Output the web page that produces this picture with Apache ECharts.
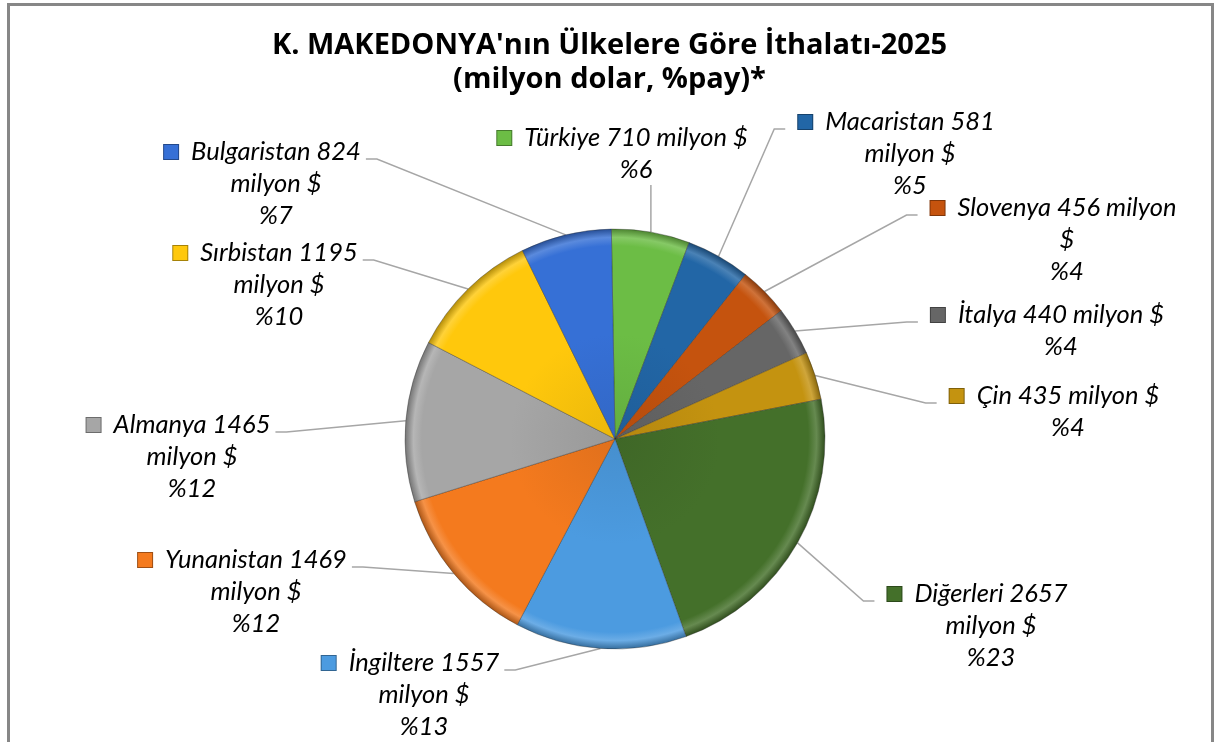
<!DOCTYPE html>
<html>
<head>
<meta charset="utf-8">
<script src="https://cdn.jsdelivr.net/npm/echarts@6/dist/echarts.min.js"></script>
<style>
  html, body { margin: 0; padding: 0; background: #fff; }
  #myChart { width: 1219px; height: 742px; }
</style>
</head>
<body>
<div id="myChart"></div>
<script>
// veriler (saat yönünde, tepeden başlayarak)
var countries = ['Türkiye', 'Macaristan', 'Slovenya', 'İtalya', 'Çin', 'Diğerleri',
  'İngiltere', 'Yunanistan', 'Almanya', 'Sırbistan', 'Bulgaristan']
var imports = [710, 581, 456, 440, 435, 2657, 1557, 1469, 1465, 1195, 824]
var shares = [6, 5, 4, 4, 4, 23, 13, 12, 12, 10, 7]
var colors = ['#6cbd45', '#2266a6', '#c5530e', '#666666', '#c49310', '#44702a',
  '#4c9be0', '#f47a1e', '#a6a6a6', '#ffc80c', '#3670d6']

var PIE_CX = 615
var PIE_CY = 439
var PIE_R = 210
var LABEL_FONT = 25.5
var LINE_H = 32
var SQ = 14
var GAP = 13

// etiket yerleri: metin ortası x, ilk satır ortası y, satır kırma tipi, çizginin bağlandığı taraf
var labelSpots = [
  [636, 138, 'B', 'bottom'], [910, 122, 'A', 'left'], [1067, 208, 'C', 'left'],
  [1061, 315, 'B', 'left'], [1068, 396, 'B', 'left'], [991, 594, 'A', 'left'],
  [424, 663, 'A', 'right'], [256, 560, 'A', 'right'], [192, 425, 'A', 'right'],
  [279, 253, 'A', 'right'], [276, 152, 'A', 'right']
]

function mix(c, target, t) {
  var a = echarts.color.parse(c)
  var b = echarts.color.parse(target)
  var r = []
  for (var i = 0; i < 3; i++) r.push(Math.round(a[i] + (b[i] - a[i]) * t))
  return 'rgb(' + r.join(',') + ')'
}

function sliceFill(c) {
  return {
    type: 'radial', x: PIE_CX, y: PIE_CY, r: PIE_R, global: true,
    colorStops: [
      { offset: 0, color: mix(c, '#000', 0.08) },
      { offset: 0.5, color: c },
      { offset: 0.92, color: c },
      { offset: 0.96, color: mix(c, '#fff', 0.18) },
      { offset: 1, color: mix(c, '#000', 0.3) }
    ]
  }
}

function firstLine(i) {
  var name = countries[i] + ' ' + imports[i]
  var mode = labelSpots[i][2]
  if (mode === 'B') return name + ' milyon $'
  if (mode === 'C') return name + ' milyon'
  return name
}

function labelText(i) {
  var pct = '%' + shares[i]
  var mode = labelSpots[i][2]
  var head = '{sq|}{gap|}' + firstLine(i) + '{pad|}'
  if (mode === 'B') return head + '\n' + pct
  if (mode === 'C') return head + '\n$\n' + pct
  return head + '\nmilyon $\n' + pct
}

var measureCtx = document.createElement('canvas').getContext('2d')
measureCtx.font = 'italic ' + LABEL_FONT + 'px Lato'

var seriesData = countries.map(function (name, i) {
  return {
    name: name,
    value: imports[i],
    itemStyle: { color: sliceFill(colors[i]) },
    label: {
      formatter: labelText(i),
      rich: {
        sq: {
          width: SQ, height: SQ,
          backgroundColor: colors[i],
          borderColor: mix(colors[i], '#000', 0.35),
          borderWidth: 1
        },
        gap: { width: GAP },
        pad: { width: SQ + GAP }
      }
    }
  }
})

var myChart = echarts.init(document.getElementById('myChart'))

var option = {
  animation: false,
  backgroundColor: '#fff',
  title: {
    text: "K. MAKEDONYA'nın Ülkelere Göre İthalatı-2025\n(milyon dolar, %pay)*",
    left: 'center',
    top: 29,
    padding: 0,
    textStyle: {
      fontFamily: 'Open Sans',
      fontWeight: 'bold',
      fontSize: 29,
      lineHeight: 34,
      color: '#000'
    }
  },
  graphic: [{
    type: 'rect',
    shape: { x: 8.5, y: 4.5, width: 1204, height: 800 },
    style: { fill: 'none', stroke: '#878787', lineWidth: 3 },
    silent: true
  }],
  series: [{
    type: 'pie',
    center: [PIE_CX, PIE_CY],
    radius: PIE_R,
    startAngle: 91,
    clockwise: true,
    data: seriesData,
    itemStyle: {
      borderColor: 'rgba(40,40,40,0.35)',
      borderWidth: 1
    },
    emphasis: { disabled: true },
    label: {
      show: true,
      position: 'outside',
      fontFamily: 'Lato',
      fontStyle: 'italic',
      fontSize: LABEL_FONT,
      lineHeight: LINE_H,
      color: '#000',
      align: 'center'
    },
    labelLine: {
      show: true,
      length: 12,
      length2: 10,
      lineStyle: { color: '#a6a6a6', width: 1.5 }
    },
    labelLayout: function (params) {
      var i = params.dataIndex
      var s = labelSpots[i]
      var top = s[1] - LINE_H / 2
      var tw = measureCtx.measureText(firstLine(i)).width
      var lineY = s[1] + 7
      var edge = params.labelLinePoints[0]
      var pts
      if (s[3] === 'left') {
        var end = s[0] - tw / 2 - SQ - GAP - 13
        pts = [edge, [end - 11, lineY], [end, lineY]]
      } else if (s[3] === 'right') {
        var st = s[0] + tw / 2 + 5
        pts = [edge, [st + 11, lineY], [st, lineY]]
      } else {
        pts = [edge, [edge[0], top + LINE_H * 2 - 1]]
      }
      return {
        x: s[0], y: top, align: 'center', verticalAlign: 'top',
        labelLinePoints: pts
      }
    }
  }]
}

myChart.setOption(option)
</script>
</body>
</html>
